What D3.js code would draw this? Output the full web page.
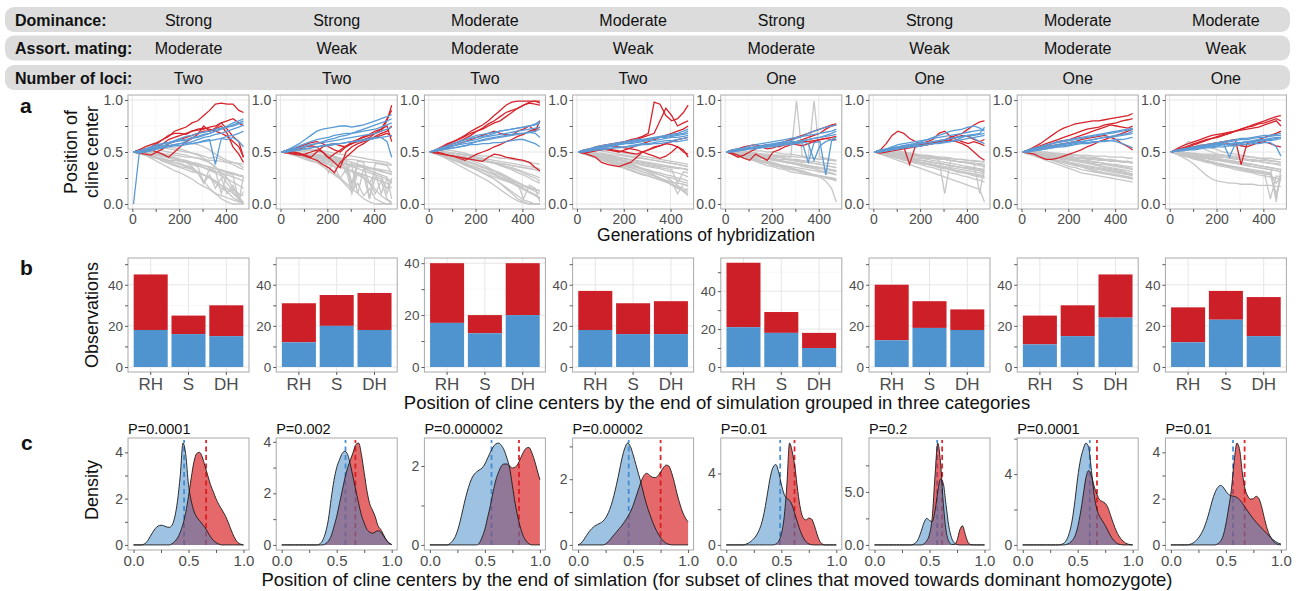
<!DOCTYPE html>
<html>
<head>
<meta charset="utf-8">
<script src="https://cdn.jsdelivr.net/npm/d3@7"></script>
<style>
  body { margin: 0; background: #fff; }
  svg { display: block; }
</style>
</head>
<body>
<svg id="fig" width="1303" height="591"></svg>
<script>
// ---- header strips ----
const headerLabels = ["Dominance:", "Assort. mating:", "Number of loci:"];
const dominance = ["Strong", "Strong", "Moderate", "Moderate", "Strong", "Strong", "Moderate", "Moderate"];
const assortMating = ["Moderate", "Weak", "Moderate", "Weak", "Moderate", "Weak", "Moderate", "Weak"];
const numLoci = ["Two", "Two", "Two", "Two", "One", "One", "One", "One"];

// ---- panel a: cline center trajectories (values in %) ----
const gens = [5, 30, 55, 80, 105, 130, 155, 180, 205, 230, 255, 280, 305, 330, 355, 380, 405, 430, 455, 475];
const greyLines = [
  ["50 50 49 48 47 46 45 44 42 41 40 38 37 35 34 32 30 29 27 26", "50 49 47 45 44 42 40 38 36 35 33 30 28 25 22 18 12 06 03 01",
   "50 51 52 52 53 54 53 52 51 50 49 48 46 44 45 43 40 38 35 33", "50 49 48 46 44 41 39 37 35 33 31 30 28 26 22 18 15 10 05 02",
   "50 52 55 57 58 56 55 54 53 51 49 47 44 40 35 30 25 15 08 00", "50 48 47 45 44 43 42 42 41 40 38 37 35 33 31 30 28 26 24 22",
   "50 50 51 52 52 51 50 49 48 47 45 44 42 40 36 28 20 12 05 00", "50 49 48 47 45 43 41 40 38 36 34 31 28 25 20 15 12 14 10 08",
   "50 51 50 50 49 48 48 47 46 45 45 44 43 42 42 41 40 40 39 38", "50 51 53 54 56 58 59 60 61 60 58 57 55 52 48 45 42 40 38 35",
   "50 49 47 44 41 38 35 32 30 27 24 20 17 14 10 05 02 00 00 00", "50 50 49 48 47 47 46 44 42 40 36 30 22 15 10 08 06 04 02 01",
   "50 49 48 46 45 44 42 40 39 37 35 30 20 28 15 25 10 18 05 12", "50 50 51 50 49 47 46 44 43 41 39 37 35 32 30 27 24 21 18 15",
   "50 49 49 48 47 46 44 43 41 40 38 36 20 34 32 10 30 28 03 26", "50 51 52 51 50 48 46 45 43 42 40 39 37 36 34 33 31 30 28 27"],
  ["50 49 48 47 46 44 43 41 40 38 36 34 31 28 25 20 14 08 04 02", "50 50 51 51 50 49 48 47 45 43 40 35 20 30 25 20 10 22 05 00",
   "50 49 47 46 45 44 43 42 41 40 39 38 37 36 35 34 33 32 30 28", "50 51 52 53 53 52 51 50 48 46 44 42 40 38 35 32 30 28 10 25",
   "50 49 48 46 44 42 40 36 32 28 24 18 12 20 08 15 05 02 00 00", "50 50 49 49 48 47 47 46 45 45 44 43 43 42 41 40 40 39 38 37",
   "50 51 51 52 52 51 50 49 47 45 42 40 15 38 35 20 30 10 25 20", "50 49 47 45 43 41 40 39 38 36 35 34 32 30 28 26 24 22 20 15",
   "50 50 50 51 51 52 52 51 50 49 48 47 46 45 44 43 42 41 40 38", "50 49 48 47 45 42 40 38 35 30 25 20 15 10 05 02 00 00 00 00",
   "50 51 50 49 48 46 45 44 43 42 40 38 36 10 34 32 30 28 26 05", "50 50 49 48 48 47 46 45 44 43 42 30 40 38 37 35 33 31 30 29",
   "50 49 48 47 45 44 42 40 38 36 25 33 10 30 28 05 26 24 15 22", "50 50 49 48 47 46 45 44 43 41 40 38 36 34 32 30 28 26 24 22",
   "50 51 50 49 48 47 46 45 30 44 43 42 20 41 40 05 39 38 37 30", "50 49 48 47 46 45 44 43 42 41 40 39 38 37 36 35 34 33 32 31"],
  ["50 49 47 45 43 41 39 37 35 33 31 29 26 24 21 18 15 12 09 06", "50 48 46 44 42 40 38 36 33 30 27 24 20 16 12 08 04 02 00 00",
   "50 50 49 48 47 46 45 44 43 42 41 40 39 38 37 36 35 34 33 32", "50 49 48 46 44 42 39 36 33 30 27 24 20 15 10 05 02 00 00 00",
   "50 51 51 50 49 48 47 46 44 43 41 40 38 36 34 32 30 27 25 22", "50 49 48 47 46 45 44 43 42 41 40 39 38 36 35 33 31 29 27 25",
   "50 48 46 43 40 37 34 31 28 25 22 18 14 10 06 03 01 00 00 00", "50 50 50 49 49 48 48 47 47 46 46 45 44 44 43 42 41 40 39 38",
   "50 49 48 46 45 43 42 40 38 36 34 32 30 27 24 21 18 15 12 10", "50 51 52 52 51 50 49 47 45 43 41 39 37 35 33 30 28 25 22 20",
   "50 49 47 45 42 40 37 35 33 30 28 26 24 22 20 18 17 15 14 12", "50 50 49 48 47 45 44 42 40 38 35 32 29 26 23 20 18 16 14 13",
   "50 49 48 47 45 43 41 39 37 35 33 30 28 25 22 20 05 18 15 02", "50 50 49 48 47 46 45 44 43 42 41 40 39 38 37 36 35 34 33 31",
   "50 49 47 45 43 41 39 37 35 32 30 28 25 23 20 17 14 11 08 05", "50 51 50 49 49 48 47 46 45 44 43 42 41 40 39 38 37 36 35 34"],
  ["50 49 48 47 46 45 44 42 41 40 39 37 36 35 34 32 31 30 28 26", "50 48 47 45 43 41 39 37 35 33 31 29 27 25 23 21 19 17 15 12",
   "50 51 52 52 51 50 49 48 47 46 45 44 43 42 41 40 39 38 37 36", "50 49 47 45 44 42 40 38 36 35 33 31 29 27 24 22 19 16 12 08",
   "50 50 49 49 48 47 46 45 44 43 42 41 40 39 38 37 36 35 34 33", "50 49 48 46 45 43 42 40 39 37 36 34 33 31 30 28 27 25 24 22",
   "50 51 50 49 48 47 45 43 41 39 37 34 31 28 25 22 18 15 13 10", "50 49 48 47 45 44 43 42 41 40 40 39 38 37 36 36 35 34 34 33",
   "50 50 51 51 52 52 51 50 49 48 47 46 45 44 43 42 41 40 39 38", "50 48 46 44 42 40 38 36 34 32 30 28 27 25 24 22 21 20 19 18",
   "50 49 48 47 46 45 43 42 40 38 36 34 32 30 28 26 22 18 12 15", "50 50 49 48 47 46 45 44 43 42 41 40 39 38 37 36 35 35 34 32",
   "50 49 48 47 46 45 44 43 42 40 39 38 37 36 35 34 33 20 31 30", "50 49 48 46 44 43 41 40 38 36 35 33 31 30 28 26 25 23 21 20",
   "50 50 50 49 49 48 47 47 46 45 44 44 43 42 41 40 39 38 37 36", "50 49 47 46 44 43 41 39 37 35 33 31 29 27 25 23 21 10 19 17"],
  ["50 49 48 47 46 45 44 43 42 41 40 39 38 37 36 35 34 33 32 31", "50 48 47 45 44 42 41 40 38 37 36 34 33 31 30 28 27 25 24 22",
   "50 51 52 51 50 49 48 47 46 45 44 43 42 41 40 39 38 37 36 35", "50 49 48 47 45 44 42 41 39 38 36 35 33 32 30 28 26 22 15 02",
   "50 50 50 49 49 48 48 47 47 46 46 45 99 45 44 44 43 43 42 42", "50 49 47 46 44 43 41 40 38 37 35 34 32 31 29 28 27 26 25 24",
   "50 51 51 52 52 51 51 50 50 49 48 48 47 46 45 99 45 44 43 42", "50 49 48 47 47 46 45 44 43 42 41 40 39 38 37 36 35 34 33 32",
   "50 50 49 48 47 46 45 44 43 42 40 39 38 36 35 34 32 31 30 28", "50 48 46 44 43 41 39 37 36 34 33 31 30 29 28 27 26 25 24 23",
   "50 51 50 50 49 49 48 48 47 47 46 46 45 45 44 44 43 43 42 41", "50 49 48 48 47 46 46 45 44 43 43 42 41 40 40 39 38 37 36 35",
   "50 49 48 47 46 46 45 44 43 42 41 40 39 38 37 36 35 34 33 32", "50 49 47 46 45 43 42 41 40 38 37 36 35 34 33 32 31 30 29 28",
   "50 50 49 49 48 47 47 46 45 45 44 43 43 42 41 41 40 39 39 38", "50 48 46 45 43 42 40 39 37 36 34 33 32 30 29 28 27 26 25 24"],
  ["50 49 48 47 46 45 44 43 42 41 40 39 38 37 36 35 34 33 32 31", "50 48 46 44 42 40 38 36 34 32 30 28 26 24 22 20 18 16 14 02",
   "50 51 51 50 50 49 49 48 47 47 46 45 45 44 43 43 42 41 41 40", "50 49 48 47 46 44 43 42 40 39 38 36 35 34 32 31 30 28 27 26",
   "50 50 49 48 48 47 46 46 45 44 44 43 10 42 41 40 40 39 10 38", "50 49 47 46 45 43 42 41 39 38 37 35 34 33 31 30 29 27 26 25",
   "50 51 52 52 51 50 49 48 47 46 45 44 43 42 41 40 39 38 37 36", "50 49 48 47 46 45 44 43 42 41 40 39 38 37 36 35 34 33 32 30",
   "50 48 47 45 44 42 41 39 38 36 35 33 32 30 29 27 26 24 23 21", "50 50 49 49 48 48 47 47 46 46 45 45 44 44 43 43 42 42 41 41",
   "50 49 49 48 47 46 45 44 44 43 42 41 40 39 38 37 36 35 34 33", "50 51 50 50 49 48 47 47 46 45 44 44 43 42 41 40 40 39 38 37",
   "50 49 48 47 46 45 44 43 42 41 40 39 38 37 36 35 35 34 33 32", "50 48 47 46 44 43 42 40 39 38 37 36 35 33 32 31 30 29 28 27",
   "50 50 49 49 48 47 47 46 45 45 44 43 43 42 41 41 40 39 39 38", "50 49 48 46 45 44 43 41 40 39 38 37 36 35 34 33 32 31 30 29"],
  ["50 49 48 47 46 45 44 43 42 41 40 39 38 37 36 35 34 33 32 31", "50 48 46 44 42 40 38 36 34 32 30 29 28 27 26 25 24 23 22 21",
   "50 51 51 50 50 49 49 48 47 47 46 45 45 44 43 43 42 41 41 40", "50 49 48 46 45 43 42 40 39 37 36 34 33 31 30 29 28 27 26 25",
   "50 50 49 48 48 47 46 46 45 44 44 43 43 42 42 41 41 40 40 39", "50 49 47 46 45 44 42 41 40 39 38 37 36 35 34 33 32 31 30 29",
   "50 51 50 49 48 46 44 42 40 38 36 34 32 31 30 29 28 27 26 25", "50 49 48 47 46 46 45 44 43 43 42 41 40 40 39 38 38 37 36 36",
   "50 48 47 46 44 43 42 40 39 38 37 36 35 34 33 32 31 30 29 28", "50 50 50 49 49 49 48 48 48 47 47 47 46 46 46 45 45 45 44 44",
   "50 49 48 48 47 46 45 45 44 43 42 42 41 40 39 38 37 36 35 34", "50 49 49 48 47 46 45 44 43 42 41 40 38 37 35 34 33 32 30 28",
   "50 49 48 47 46 45 44 43 43 42 41 40 39 38 38 37 36 35 34 33", "50 48 47 45 44 42 41 40 38 37 36 35 34 33 32 31 30 29 28 27",
   "50 50 49 49 48 48 47 46 46 45 45 44 44 43 43 42 42 41 41 40", "50 49 47 46 44 42 40 38 36 35 33 32 31 30 29 28 27 26 25 24"],
  ["50 49 48 47 46 45 44 43 42 41 40 39 38 37 36 35 34 33 32 31", "50 48 45 42 38 33 28 24 22 21 20 20 19 19 19 18 18 18 17 17",
   "50 51 52 53 55 57 56 54 52 50 49 48 47 46 45 44 43 42 41 40", "50 49 48 47 45 44 42 41 39 38 37 36 35 34 33 32 31 30 05 28",
   "50 50 49 49 48 48 47 47 46 45 45 44 44 43 43 42 42 41 41 40", "50 49 47 46 44 43 42 40 39 38 36 35 34 33 31 30 29 28 10 25",
   "50 52 55 60 58 55 52 50 48 47 46 45 44 43 42 41 40 39 38 37", "50 49 48 47 46 45 44 43 42 42 41 40 39 38 38 37 36 35 34 33",
   "50 48 46 45 43 42 40 39 37 36 35 33 32 31 30 28 27 26 25 24", "50 50 50 49 49 48 48 48 47 47 46 46 46 45 45 44 44 44 43 43",
   "50 49 48 47 47 46 45 44 43 42 42 41 40 39 38 37 36 35 02 34", "50 51 50 49 48 47 46 45 44 43 42 41 40 39 38 37 36 35 34 33",
   "50 49 48 47 46 45 44 43 42 41 40 39 38 37 36 35 34 33 32 31", "50 48 47 45 44 42 41 40 38 37 36 35 34 33 32 31 30 29 20 27",
   "50 50 49 49 48 47 47 46 45 45 44 43 43 42 41 41 40 39 39 38", "50 49 47 46 44 43 41 40 39 37 36 35 33 32 31 30 29 05 27 26"]
];
const redLines = [
  ["50 52 55 57 59 62 65 70 72 74 78 80 85 90 96 97 96 96 90 88", "50 51 52 55 58 62 66 68 68 67 70 72 73 72 70 68 65 60 55 45",
   "50 49 48 47 50 53 58 60 62 64 66 68 70 70 72 75 68 55 48 40", "50 51 53 52 50 48 45 50 55 60 63 67 75 70 73 78 72 65 60 45",
   "50 52 50 52 55 58 62 64 66 68 70 71 72 74 75 78 80 82 78 75"],
  ["50 50 49 48 46 44 42 38 35 30 40 45 50 55 58 62 65 68 70 75", "50 49 48 47 48 50 52 50 45 40 35 50 55 58 60 62 64 66 68 65",
   "50 51 52 53 55 56 55 50 44 48 52 56 58 60 62 64 68 70 80 95", "50 51 50 49 47 45 50 55 57 58 56 55 58 62 65 67 70 72 75 60",
   "50 52 53 55 57 59 60 58 55 52 50 55 60 62 64 66 68 72 82 90"],
  ["50 52 54 57 60 63 66 70 73 76 80 85 90 95 98 99 99 99 99 97", "50 51 53 55 58 60 63 66 70 73 77 80 84 88 90 92 95 97 96 95",
   "50 49 48 47 46 45 44 43 42 41 45 48 47 45 44 43 42 40 35 32", "50 52 55 58 60 62 65 68 70 72 75 78 80 84 88 92 95 98 99 99",
   "50 51 52 54 56 58 60 62 64 66 68 70 68 67 66 70 72 75 70 80", "50 50 49 47 46 44 42 45 48 50 52 55 57 60 62 65 67 70 72 74"],
  ["50 51 52 54 55 56 57 58 60 62 63 65 68 98 96 85 80 82 88 95", "50 49 47 45 40 38 37 36 38 40 45 50 52 55 56 58 60 62 63 64",
   "50 51 52 53 54 55 56 55 54 53 52 50 48 46 44 46 50 55 52 45", "50 50 51 52 53 52 51 50 52 54 56 58 60 62 64 66 68 70 72 75",
   "50 52 53 55 56 57 58 59 60 61 62 64 66 68 80 92 85 75 78 80", "50 49 50 51 52 53 52 51 50 49 48 50 52 54 56 58 57 55 50 48"],
  ["50 48 45 47 50 53 55 56 57 58 60 62 64 66 68 70 72 74 76 77", "50 49 47 44 42 48 45 42 50 52 55 57 58 60 60 61 62 63 64 65",
   "50 51 52 53 54 55 56 57 56 55 57 58 60 62 64 66 68 72 75 76", "50 52 53 55 56 57 55 53 54 56 57 58 57 56 58 60 62 63 62 62"],
  ["50 52 58 66 70 68 63 60 58 57 58 60 62 64 66 68 72 76 79 80", "50 51 52 53 54 55 38 56 57 58 59 60 61 62 64 66 65 62 60 62",
   "50 49 50 51 52 53 54 55 56 57 58 59 60 61 60 58 55 50 45 42", "50 51 52 53 54 55 56 57 58 60 62 68 70 65 62 60 58 60 58 56"],
  ["50 52 55 58 62 66 70 73 75 77 78 79 80 80 81 82 83 84 85 87", "50 49 48 45 43 43 44 46 48 50 52 55 57 60 62 64 66 68 70 72",
   "50 52 54 56 58 60 62 64 66 68 70 72 73 74 76 77 78 80 81 82", "50 51 52 53 55 56 57 58 59 60 62 63 64 65 66 64 62 58 55 52",
   "50 51 53 54 56 58 60 61 62 64 66 68 70 72 74 76 75 74 73 75"],
  ["50 52 54 56 58 60 62 63 64 66 68 70 72 74 76 78 80 82 84 85", "50 51 52 54 55 56 57 58 59 60 61 62 38 58 60 62 64 66 68 70",
   "50 53 56 58 60 62 64 66 67 68 69 70 72 74 75 77 78 80 82 80", "50 51 52 53 54 55 56 57 58 59 58 57 56 55 57 59 60 58 56 55",
   "50 52 53 55 57 59 61 63 65 67 68 70 71 72 73 74 76 78 80 75"]
];
const blueLines = [
  ["00 50 52 53 55 56 58 60 62 61 63 64 66 68 70 72 74 76 78 80", "50 51 52 54 56 58 59 60 61 62 64 65 67 68 70 72 75 78 80 82",
   "50 49 50 51 53 54 56 57 58 60 58 59 61 62 38 63 65 66 68 70", "50 51 52 53 54 55 56 57 58 58 60 62 64 65 67 68 70 72 74 76",
   "50 50 51 52 53 54 55 56 56 57 58 59 60 61 62 63 62 64 60 55", "50 51 53 55 57 58 59 61 63 65 66 68 69 70 72 73 74 75 77 78"],
  ["50 52 55 58 62 66 70 72 73 74 75 75 74 75 76 78 80 82 84 86", "50 51 53 54 56 57 58 59 60 61 62 63 64 65 66 67 68 70 72 74",
   "50 51 52 52 53 54 55 56 57 58 58 59 60 61 62 63 64 64 60 45", "50 52 54 56 58 60 62 63 64 66 67 68 68 69 70 71 72 74 76 78",
   "50 50 51 52 53 54 55 56 56 57 58 59 60 60 61 62 63 64 65 66", "50 51 52 54 55 57 58 60 62 63 65 66 68 70 72 74 76 78 80 82"],
  ["50 52 54 56 58 60 62 64 66 67 68 69 70 71 72 73 74 75 76 78", "50 51 53 55 56 57 58 59 60 61 62 63 64 65 66 67 68 69 70 72",
   "50 51 52 53 54 55 56 58 60 62 63 64 65 66 67 68 68 69 68 64", "50 52 54 56 58 60 62 63 64 65 66 68 70 71 72 73 74 75 77 80",
   "50 51 52 53 54 55 56 57 57 58 58 59 59 60 61 62 62 60 58 55", "50 51 53 54 56 58 60 61 62 64 65 66 67 68 69 70 71 72 73 74"],
  ["50 51 52 53 54 55 56 57 58 59 60 61 62 63 64 65 66 67 68 70", "50 51 53 54 55 56 57 58 59 60 61 62 62 63 64 64 65 66 67 68",
   "50 50 51 52 53 53 54 55 55 56 57 58 58 59 60 61 61 62 63 64", "50 52 53 55 56 57 58 59 60 61 62 62 63 64 65 66 67 68 70 72",
   "50 51 51 52 52 53 54 54 55 55 56 57 57 58 58 59 60 60 61 62", "50 51 52 53 54 55 56 57 58 58 59 60 61 61 62 63 64 64 65 66"],
  ["50 51 52 53 54 55 56 57 58 59 60 61 63 65 68 70 72 74 75 76", "50 51 52 53 54 54 55 56 57 58 58 59 60 61 62 63 64 65 66 67",
   "50 50 51 52 53 54 55 55 56 57 57 58 59 60 58 42 56 60 62 64", "50 52 53 54 56 57 58 59 60 61 62 63 64 65 66 67 68 69 70 72",
   "50 51 51 52 53 53 54 55 55 56 57 57 58 59 40 59 60 28 61 62", "50 51 52 53 54 55 56 56 57 58 59 60 60 61 62 63 64 66 68 70"],
  ["50 51 52 53 54 55 56 57 58 59 60 61 62 63 64 65 66 66 67 68", "50 51 52 54 55 56 57 58 60 62 64 66 68 70 71 72 74 75 73 70",
   "50 50 51 52 53 54 55 55 56 57 58 59 60 60 61 62 63 64 65 66", "50 52 53 54 55 56 57 58 59 59 60 61 62 63 64 65 66 67 68 74",
   "50 51 51 52 53 54 55 56 56 57 58 58 59 60 62 64 66 63 60 58", "50 51 53 55 57 58 59 60 61 62 63 64 65 66 67 68 69 70 71 72"],
  ["50 51 52 53 54 55 56 57 58 59 60 61 62 63 64 65 66 67 68 70", "50 52 54 55 57 58 59 60 61 62 63 64 65 66 67 68 69 70 71 72",
   "50 51 52 52 53 54 55 55 56 57 58 58 59 60 60 61 62 62 63 64", "50 51 53 54 55 56 57 58 59 60 60 61 62 63 64 64 65 66 67 68",
   "50 50 51 52 53 54 55 56 57 58 59 59 60 60 61 61 60 58 56 54", "50 52 53 55 56 58 60 61 62 63 64 65 66 67 68 69 70 71 72 73"],
  ["50 51 52 53 54 55 56 57 58 59 60 61 62 62 63 64 64 65 66 66", "50 51 52 53 54 55 56 57 58 58 45 58 59 60 61 62 62 63 64 64",
   "50 51 51 52 52 53 54 54 55 55 56 56 57 57 58 58 59 59 55 46", "50 52 53 54 55 56 57 58 59 60 61 62 63 63 64 65 66 66 67 68",
   "50 51 52 52 53 54 55 55 56 57 57 58 58 59 59 60 61 61 62 63", "50 51 52 53 54 55 55 56 57 57 58 59 59 60 60 61 62 62 63 64"]
];
const aXTicks = [0, 200, 400];
const aXMinor = [100, 300];
const aYTicks = [0, 0.5, 1];
const aYMinor = [0.25, 0.75];

// ---- panel b: observations by category ----
const categories = ["RH", "S", "DH"];
const blueCounts = [[18, 16, 15], [12, 20, 18], [17, 13, 20], [18, 16, 16], [21, 18, 10], [13, 19, 18], [11, 15, 24], [12, 23, 15]];
const totalCounts = [[45, 25, 30], [31, 35, 36], [40, 20, 40], [37, 31, 32], [55, 29, 18], [40, 32, 28], [25, 30, 45], [29, 37, 34]];
const barYMax = [53, 53, 42, 53, 57.5, 53, 53, 53];
const bYTicks = [0, 20, 40];
const bYMinor = [10, 30, 50];

// ---- panel c: densities ----
const densX = [0, 0.025, 0.05, 0.075, 0.1, 0.125, 0.15, 0.175, 0.2, 0.225, 0.25, 0.275, 0.3, 0.325, 0.35, 0.375, 0.4, 0.425, 0.45, 0.475, 0.5,
  0.525, 0.55, 0.575, 0.6, 0.625, 0.65, 0.675, 0.7, 0.725, 0.75, 0.775, 0.8, 0.825, 0.85, 0.875, 0.9, 0.925, 0.95, 0.975, 1];
const densBlue = [
  [0,0,0,0,0.05,0.15,0.35,0.55,0.72,0.82,0.85,0.83,0.78,0.76,0.85,1.2,1.9,3.0,4.4,3.9,2.6,1.9,1.45,1.2,1.05,0.9,0.75,0.55,0.35,0.2,0.1,0.04,0,0,0,0,0,0,0,0,0],
  [0,0,0,0,0,0,0,0,0,0,0,0,0,0,0.05,0.2,0.5,1.0,1.8,2.5,3.0,3.3,3.55,3.63,3.5,3.1,2.6,2.1,1.6,1.15,0.85,0.6,0.5,0.45,0.5,0.55,0.5,0.35,0.2,0.08,0.02],
  [0,0,0,0,0,0,0,0.02,0.08,0.18,0.35,0.6,0.9,1.2,1.45,1.65,1.78,1.85,1.9,1.95,2.05,2.2,2.35,2.48,2.56,2.58,2.52,2.4,2.2,1.95,1.5,1.05,0.7,0.42,0.22,0.1,0.03,0,0,0,0],
  [0,0.05,0.15,0.28,0.4,0.5,0.57,0.62,0.66,0.72,0.82,0.98,1.2,1.5,1.85,2.25,2.65,2.95,3.1,3.0,2.75,2.45,2.15,1.85,1.5,1.2,0.95,0.72,0.52,0.36,0.22,0.12,0.05,0.02,0,0,0,0,0,0,0],
  [0,0,0,0,0,0,0,0.03,0.1,0.2,0.35,0.55,0.85,1.3,2.0,2.9,3.8,4.35,4.5,4.1,3.4,2.85,2.6,2.5,2.2,1.7,1.2,0.75,0.4,0.18,0.06,0.01,0,0,0,0,0,0,0,0,0],
  [0,0,0,0,0,0,0,0,0,0,0,0,0,0,0.05,0.2,0.6,1.3,2.1,2.5,2.3,2.2,3.2,5.0,6.2,5.8,3.8,1.8,0.7,0.2,0.05,0,0,0,0,0,0,0,0,0,0],
  [0,0,0,0,0,0,0,0,0,0,0,0,0,0,0.03,0.1,0.3,0.7,1.4,2.5,3.8,4.8,5.4,5.75,5.5,4.2,2.8,2.0,1.6,1.35,1.1,0.8,0.5,0.28,0.12,0.04,0.01,0,0,0,0],
  [0,0,0,0,0,0,0,0.03,0.08,0.17,0.3,0.48,0.72,1.05,1.45,1.9,2.25,2.48,2.57,2.5,2.32,2.18,2.12,2.1,2.05,1.95,1.8,1.62,1.45,1.28,1.12,0.98,0.85,0.72,0.6,0.48,0.35,0.24,0.15,0.08,0.04]
];
const densRed = [
  [0,0,0,0,0,0,0,0,0,0,0,0,0,0,0.05,0.15,0.3,0.55,0.9,1.4,2.1,2.9,3.6,3.95,4.0,3.8,3.4,3.0,2.6,2.3,2.0,1.75,1.55,1.35,1.1,0.8,0.5,0.25,0.1,0.03,0],
  [0,0,0,0,0,0,0,0,0,0,0,0,0,0,0,0,0.05,0.15,0.35,0.7,1.1,1.6,2.1,2.6,3.0,3.3,3.6,3.9,3.95,3.5,2.8,2.1,1.6,1.35,1.1,0.75,0.6,0.4,0.2,0.07,0.01],
  [0,0,0,0,0,0,0,0,0,0,0,0,0,0,0,0,0,0,0.05,0.2,0.4,0.7,1.0,1.35,1.65,1.85,2.0,2.05,2.05,2.0,1.95,1.97,2.05,2.2,2.35,2.45,2.47,2.35,2.15,1.9,1.65],
  [0,0,0,0,0,0,0,0,0,0,0.03,0.1,0.2,0.3,0.4,0.5,0.6,0.72,0.85,1.0,1.2,1.45,1.7,1.95,2.12,2.18,2.12,2.06,2.05,2.1,2.22,2.35,2.43,2.4,2.2,1.9,1.55,1.25,1.0,0.82,0.7],
  [0,0,0,0,0,0,0,0,0,0,0,0,0,0,0,0,0,0,0.05,0.2,0.6,1.5,3.3,5.7,5.2,4.3,3.0,2.0,1.5,1.4,1.5,1.45,1.1,0.6,0.2,0.05,0,0,0,0,0],
  [0,0,0,0,0,0,0,0,0,0,0,0,0,0,0,0,0,0,0.1,0.4,1.0,2.6,6.5,9.6,7.8,4.0,1.4,0.35,0.05,0.05,0.4,1.4,1.8,1.0,0.25,0.03,0,0,0,0,0],
  [0,0,0,0,0,0,0,0,0,0,0,0,0,0,0,0,0.03,0.1,0.25,0.5,1.0,1.8,2.8,3.8,4.2,3.9,3.3,2.85,2.55,2.45,2.35,2.1,1.65,1.2,0.8,0.5,0.3,0.15,0.06,0.02,0],
  [0,0,0,0,0,0,0,0,0,0,0,0,0,0,0,0,0,0.05,0.15,0.4,0.9,1.6,2.4,3.6,4.4,4.1,3.1,2.4,2.1,1.98,2.0,2.1,2.0,1.65,1.15,0.7,0.4,0.2,0.08,0.02,0]
];
const meanBlue = [0.46, 0.58, 0.56, 0.46, 0.49, 0.57, 0.61, 0.565];
const meanRed = [0.66, 0.67, 0.81, 0.75, 0.62, 0.615, 0.675, 0.67];
const pLabels = ["P=0.0001", "P=0.002", "P=0.000002", "P=0.00002", "P=0.01", "P=0.2", "P=0.0001", "P=0.01"];
const cYTicks = [[0, 2, 4], [0, 2, 4], [0, 2], [0, 2], [0, 4], [0, 5], [0, 4], [0, 2, 4]];
const cYLabels = [["0", "2", "4"], ["0", "2", "4"], ["0", "2"], ["0", "2"], ["0", "4"], ["0.0", "5.0"], ["0", "4"], ["0", "2", "4"]];
const cYMinor = [[1, 3], [1, 3], [1], [1, 3], [2, 6], [2.5, 7.5], [2, 6], [1, 3]];
const cXTicks = [0, 0.5, 1];
const cXMinor = [0.25, 0.75];

// ---- layout ----
const FONT = '"Liberation Sans", Arial, Helvetica, sans-serif';
const PW = 121;
const panelX = i => 128 + i * 148.2;
const A_TOP = 95, A_BOT = 209;
const B_TOP = 258, B_BOT = 372;
const C_TOP = 438, C_BOT = 550;
const RED = "#cd1f28", BLUE = "#4f94cf";

const svg = d3.select("#fig").style("font-family", FONT);

// header strips
const headerRows = [dominance, assortMating, numLoci];
const stripY = [7, 35.5, 65];
headerRows.forEach((vals, r) => {
  const y0 = stripY[r];
  svg.append("rect").attr("x", 5).attr("y", y0).attr("width", 1285).attr("height", 25)
    .attr("rx", 9).attr("fill", "#dcdcdc");
  svg.append("text").attr("x", 15).attr("y", y0 + 18.5).attr("font-size", 16).attr("font-weight", "bold")
    .attr("fill", "#111").text(headerLabels[r]);
  vals.forEach((v, i) => {
    svg.append("text").attr("x", panelX(i) + PW / 2).attr("y", y0 + 18.5).attr("text-anchor", "middle")
      .attr("font-size", 16).attr("fill", "#111").text(v);
  });
});

function styleAxis(a, fs) {
  a.select(".domain").remove();
  a.selectAll(".tick line").attr("stroke", "#333").attr("stroke-width", 0.8);
  a.selectAll(".tick text").attr("fill", "#4d4d4d").attr("font-size", fs).attr("font-family", FONT);
  return a;
}

function frame(g, x0, top, bot) {
  g.append("rect").attr("x", x0).attr("y", top).attr("width", PW).attr("height", bot - top)
    .attr("fill", "none").attr("stroke", "#a9a9a9").attr("stroke-width", 1);
}

const parseLine = s => s.split(" ").map((v, k) => [gens[k], +v / 100]);

// ---- panel a ----
const gExt = d3.extent(gens);
const gPad = (gExt[1] - gExt[0]) * 0.05;
for (let i = 0; i < 8; i++) {
  const x0 = panelX(i);
  const x = d3.scaleLinear().domain([gExt[0] - gPad, gExt[1] + gPad]).range([x0, x0 + PW]);
  const y = d3.scaleLinear().domain([0, 1]).range([A_BOT - 5, A_TOP + 5]);
  const g = svg.append("g");

  aXMinor.forEach(v => g.append("line").attr("x1", x(v)).attr("x2", x(v)).attr("y1", A_TOP).attr("y2", A_BOT)
    .attr("stroke", "#f2f2f2").attr("stroke-width", 0.6));
  aYMinor.forEach(v => g.append("line").attr("x1", x0).attr("x2", x0 + PW).attr("y1", y(v)).attr("y2", y(v))
    .attr("stroke", "#f2f2f2").attr("stroke-width", 0.6));
  aXTicks.forEach(v => g.append("line").attr("x1", x(v)).attr("x2", x(v)).attr("y1", A_TOP).attr("y2", A_BOT)
    .attr("stroke", "#e6e6e6").attr("stroke-width", 1));
  aYTicks.forEach(v => g.append("line").attr("x1", x0).attr("x2", x0 + PW).attr("y1", y(v)).attr("y2", y(v))
    .attr("stroke", "#e6e6e6").attr("stroke-width", 1));

  const line = d3.line().x(d => x(d[0])).y(d => y(d[1]));
  g.selectAll(".grey").data(greyLines[i]).join("path").attr("d", d => line(parseLine(d)))
    .attr("fill", "none").attr("stroke", "#c6c6c6").attr("stroke-width", 1.3);
  g.selectAll(".red").data(redLines[i]).join("path").attr("d", d => line(parseLine(d)))
    .attr("fill", "none").attr("stroke", "#d7232b").attr("stroke-width", 1.3);
  g.selectAll(".blue").data(blueLines[i]).join("path").attr("d", d => line(parseLine(d)))
    .attr("fill", "none").attr("stroke", "#5b9bd5").attr("stroke-width", 1.3);

  frame(g, x0, A_TOP, A_BOT);
  styleAxis(g.append("g").attr("transform", `translate(0,${A_BOT})`)
    .call(d3.axisBottom(x).tickValues(aXTicks).tickSize(3).tickPadding(2)), 14);
  styleAxis(g.append("g").attr("transform", `translate(0,${A_BOT})`)
    .call(d3.axisBottom(x).tickValues(aXMinor).tickSize(3).tickFormat("")), 14);
  styleAxis(g.append("g").attr("transform", `translate(${x0},0)`)
    .call(d3.axisLeft(y).tickValues(aYTicks).tickSize(3).tickPadding(2).tickFormat(d3.format(".1f"))), 14);
  styleAxis(g.append("g").attr("transform", `translate(${x0},0)`)
    .call(d3.axisLeft(y).tickValues(aYMinor).tickSize(3).tickFormat("")), 14);
}

// ---- panel b ----
for (let i = 0; i < 8; i++) {
  const x0 = panelX(i);
  const x = d3.scaleBand().domain(categories).range([x0, x0 + PW]).paddingInner(0.1).paddingOuter(0.15);
  const y = d3.scaleLinear().domain([0, barYMax[i]]).range([B_BOT - 5, B_TOP]);
  const g = svg.append("g");
  const minor = bYMinor.filter(v => v < barYMax[i]);

  minor.forEach(v => g.append("line").attr("x1", x0).attr("x2", x0 + PW).attr("y1", y(v)).attr("y2", y(v))
    .attr("stroke", "#f2f2f2").attr("stroke-width", 0.6));
  bYTicks.forEach(v => g.append("line").attr("x1", x0).attr("x2", x0 + PW).attr("y1", y(v)).attr("y2", y(v))
    .attr("stroke", "#e6e6e6").attr("stroke-width", 1));
  categories.forEach(c => g.append("line").attr("x1", x(c) + x.bandwidth() / 2).attr("x2", x(c) + x.bandwidth() / 2)
    .attr("y1", B_TOP).attr("y2", B_BOT).attr("stroke", "#e6e6e6").attr("stroke-width", 1));

  categories.forEach((c, k) => {
    g.append("rect").attr("x", x(c)).attr("width", x.bandwidth())
      .attr("y", y(totalCounts[i][k])).attr("height", y(blueCounts[i][k]) - y(totalCounts[i][k])).attr("fill", RED);
    g.append("rect").attr("x", x(c)).attr("width", x.bandwidth())
      .attr("y", y(blueCounts[i][k])).attr("height", y(0) - y(blueCounts[i][k])).attr("fill", BLUE);
  });

  frame(g, x0, B_TOP, B_BOT);
  styleAxis(g.append("g").attr("transform", `translate(0,${B_BOT})`)
    .call(d3.axisBottom(x).tickSize(3).tickPadding(3)), 17);
  styleAxis(g.append("g").attr("transform", `translate(${x0},0)`)
    .call(d3.axisLeft(y).tickValues(bYTicks).tickSize(3).tickPadding(2)), 13.5);
  styleAxis(g.append("g").attr("transform", `translate(${x0},0)`)
    .call(d3.axisLeft(y).tickValues(minor).tickSize(3).tickFormat("")), 13.5);
}

// ---- panel c ----
for (let i = 0; i < 8; i++) {
  const x0 = panelX(i);
  const x = d3.scaleLinear().domain([-0.05, 1.05]).range([x0, x0 + PW]);
  const m = Math.max(d3.max(densBlue[i]), d3.max(densRed[i]));
  const y = d3.scaleLinear().domain([-0.05 * m, 1.05 * m]).range([C_BOT, C_TOP]);
  const g = svg.append("g");
  g.append("rect").attr("x", x0).attr("y", C_TOP).attr("width", PW).attr("height", C_BOT - C_TOP).attr("fill", "#fff");

  // mean lines (under the translucent fills)
  [[meanBlue[i], "#4a90d9"], [meanRed[i], "#e3242b"]].forEach(([v, col]) => {
    g.append("line").attr("x1", x(v)).attr("x2", x(v)).attr("y1", y(0)).attr("y2", C_TOP + 2)
      .attr("stroke", col).attr("stroke-width", 1.8).attr("stroke-dasharray", "5,3.5");
  });

  const area = d3.area().x((d, k) => x(densX[k])).y0(y(0)).y1(d => y(d)).curve(d3.curveMonotoneX);
  const line = d3.line().x((d, k) => x(densX[k])).y(d => y(d)).curve(d3.curveMonotoneX);
  g.append("path").attr("d", area(densRed[i])).attr("fill", "#d7191c").attr("fill-opacity", 0.65);
  g.append("path").attr("d", area(densBlue[i])).attr("fill", "#3d85c6").attr("fill-opacity", 0.5);
  g.append("path").attr("d", line(densRed[i])).attr("fill", "none").attr("stroke", "#1a1a1a").attr("stroke-width", 0.9);
  g.append("path").attr("d", line(densBlue[i])).attr("fill", "none").attr("stroke", "#1a1a1a").attr("stroke-width", 0.9);

  frame(g, x0, C_TOP, C_BOT);
  styleAxis(g.append("g").attr("transform", `translate(0,${C_BOT})`)
    .call(d3.axisBottom(x).tickValues(cXTicks).tickSize(3).tickPadding(2).tickFormat(d3.format(".1f"))), 15);
  styleAxis(g.append("g").attr("transform", `translate(0,${C_BOT})`)
    .call(d3.axisBottom(x).tickValues(cXMinor).tickSize(3).tickFormat("")), 15);
  styleAxis(g.append("g").attr("transform", `translate(${x0},0)`)
    .call(d3.axisLeft(y).tickValues(cYTicks[i]).tickSize(3).tickPadding(2).tickFormat((d, k) => cYLabels[i][k])), 14);
  styleAxis(g.append("g").attr("transform", `translate(${x0},0)`)
    .call(d3.axisLeft(y).tickValues(cYMinor[i].filter(v => v < 1.05 * m)).tickSize(3).tickFormat("")), 14);

  g.append("text").attr("x", x0).attr("y", C_TOP - 4).attr("font-size", 14.5).attr("fill", "#111").text(pLabels[i]);
}

// ---- titles and panel letters ----
const T = (txt, x, y, opt = {}) => svg.append("text").attr("x", x).attr("y", y).attr("text-anchor", opt.anchor || "middle")
  .attr("font-size", opt.size || 18.5).attr("font-weight", opt.bold ? "bold" : null).attr("fill", "#111")
  .attr("transform", opt.rot ? `rotate(-90,${x},${y})` : null).text(txt);

T("Generations of hybridization", 706, 241, { size: 17.5 });
T("Position of cline centers by the end of simulation grouped in three categories", 717, 409);
T("Position of cline centers by the end of simlation (for subset of clines that moved towards dominant homozygote)", 717, 586);
T("Position of", 77, 152, { rot: true, size: 18 });
T("cline center", 98, 152, { rot: true, size: 18 });
T("Observations", 98, 315, { rot: true, size: 18 });
T("Density", 98, 490, { rot: true, size: 18 });
T("a", 20, 113, { anchor: "start", bold: true, size: 21 });
T("b", 20, 275, { anchor: "start", bold: true, size: 21 });
T("c", 21, 450, { anchor: "start", bold: true, size: 21 });
</script>
</body>
</html>
